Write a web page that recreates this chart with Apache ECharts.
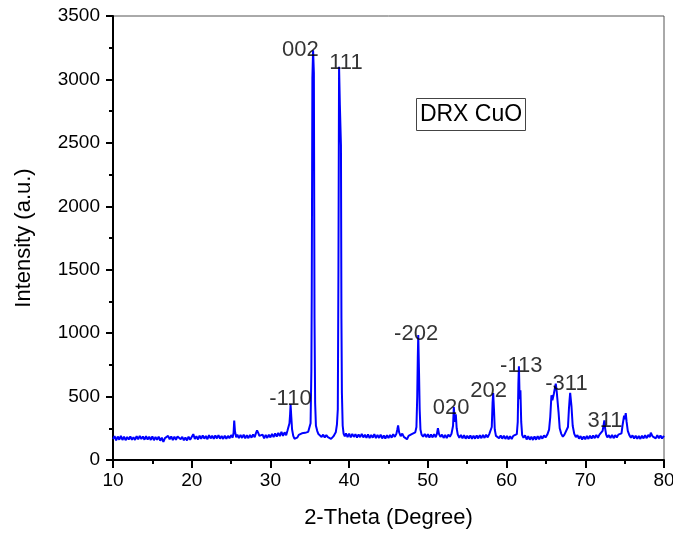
<!DOCTYPE html>
<html>
<head>
<meta charset="utf-8">
<script src="https://cdn.jsdelivr.net/npm/echarts@6/dist/echarts.min.js"></script>
<style>html,body{margin:0;padding:0;background:#fff;}#c{width:673px;height:533px;}</style>
</head>
<body>
<div id="c"></div>
<script>
// 2-Theta (degree) vs intensity (a.u.)
const pattern = [
[10.0,165],[10.2,188],[10.4,155],[10.6,185],[10.8,160],[11.0,190],[11.2,158],[11.4,184],[11.6,156],[11.8,182],
[12.0,162],[12.2,186],[12.4,160],[12.6,180],[12.8,158],[13.0,188],[13.2,164],[13.4,190],[13.6,166],[13.8,186],
[14.0,160],[14.2,188],[14.4,162],[14.6,184],[14.8,158],[15.0,186],[15.2,156],[15.4,182],[15.6,160],[15.8,184],
[16.0,152],[16.2,176],[16.4,142],[16.6,172],[16.8,158],[17.0,190],[17.2,164],[17.4,186],[17.6,156],[17.8,184],
[18.0,160],[18.2,186],[18.4,200],[18.6,164],[18.8,182],[19.0,156],[19.2,178],[19.4,154],[19.6,184],[19.8,160],
[20.0,182],[20.2,204],[20.4,166],[20.6,188],[20.8,162],[21.0,192],[21.2,166],[21.4,194],[21.6,168],[21.8,190],
[22.0,164],[22.2,196],[22.4,170],[22.6,192],[22.8,166],[23.0,194],[23.2,170],[23.4,196],[23.6,168],[23.8,190],
[24.0,166],[24.2,192],[24.4,168],[24.6,190],[24.8,172],[25.0,196],[25.2,176],[25.32,215],[25.4,310],[25.5,225],
[25.65,178],[25.8,200],[26.0,172],[26.2,198],[26.4,174],[26.6,200],[26.8,170],[27.0,196],[27.2,172],[27.4,198],
[27.6,176],[27.8,202],[28.0,180],[28.15,210],[28.3,234],[28.45,214],[28.6,190],[28.8,176],[29.0,200],[29.2,170],
[29.4,198],[29.6,174],[29.8,200],[30.0,178],[30.2,206],[30.4,180],[30.6,210],[30.8,184],[31.0,214],[31.2,188],
[31.4,222],[31.6,190],[31.8,218],[32.0,196],[32.15,228],[32.3,214],[32.42,290],[32.5,360],[32.56,440],[32.65,340],
[32.75,240],[32.9,190],[33.05,168],[33.2,182],[33.4,176],[33.6,198],[33.8,190],[34.0,210],[34.2,200],[34.4,214],
[34.6,202],[34.8,222],[35.0,235],[35.1,290],[35.2,700],[35.25,1315],[35.33,3010],[35.42,3230],[35.52,3050],[35.6,1118],
[35.68,450],[35.78,270],[35.95,228],[36.1,204],[36.3,196],[36.5,182],[36.7,200],[36.9,178],[37.1,196],[37.3,180],
[37.5,188],[37.7,166],[37.85,152],[38.0,186],[38.15,200],[38.3,218],[38.45,280],[38.56,400],[38.64,1500],[38.72,3100],
[38.82,2800],[38.96,2480],[39.02,1118],[39.08,530],[39.18,270],[39.3,206],[39.45,186],[39.6,210],[39.8,180],[40.0,208],
[40.2,178],[40.4,206],[40.6,182],[40.8,204],[41.0,176],[41.2,202],[41.4,180],[41.6,206],[41.8,178],[42.0,200],
[42.2,174],[42.4,202],[42.6,172],[42.8,198],[43.0,176],[43.2,204],[43.4,172],[43.6,198],[43.8,174],[44.0,200],
[44.2,170],[44.4,194],[44.6,168],[44.8,196],[45.0,174],[45.2,198],[45.4,176],[45.6,204],[45.8,182],[46.0,206],
[46.12,240],[46.22,272],[46.35,218],[46.55,188],[46.75,208],[46.95,182],[47.15,196],[47.35,164],[47.55,190],[47.75,180],
[47.95,204],[48.15,196],[48.4,218],[48.55,260],[48.65,500],[48.72,800],[48.78,985],[48.88,683],[48.96,400],[49.06,240],
[49.2,200],[49.4,184],[49.6,206],[49.8,180],[50.0,204],[50.2,176],[50.4,202],[50.6,178],[50.8,204],[51.0,180],
[51.15,206],[51.28,250],[51.42,204],[51.6,182],[51.8,200],[52.0,174],[52.2,198],[52.4,172],[52.6,200],[52.8,184],
[53.0,206],[53.12,215],[53.2,270],[53.3,417],[53.42,300],[53.55,360],[53.66,250],[53.8,200],[54.0,176],[54.2,198],
[54.4,170],[54.6,196],[54.8,168],[55.0,192],[55.2,170],[55.4,194],[55.6,166],[55.8,192],[56.0,168],[56.2,194],
[56.4,170],[56.6,196],[56.8,172],[57.0,198],[57.2,174],[57.4,200],[57.6,178],[57.8,204],[58.0,196],[58.12,260],
[58.22,450],[58.3,528],[58.4,400],[58.5,240],[58.65,190],[58.85,200],[59.05,172],[59.25,194],[59.45,168],[59.65,192],
[59.85,166],[60.05,190],[60.25,164],[60.45,188],[60.65,166],[60.85,190],[61.05,176],[61.3,204],[61.42,300],[61.5,600],
[61.57,739],[61.66,480],[61.76,549],[61.86,300],[61.98,196],[62.15,176],[62.35,194],[62.55,162],[62.75,188],[62.95,160],
[63.15,184],[63.35,158],[63.55,186],[63.75,160],[63.95,188],[64.15,164],[64.35,190],[64.55,168],[64.75,194],[64.95,178],
[65.2,204],[65.4,240],[65.55,340],[65.7,510],[65.82,470],[66.0,520],[66.25,602],[66.37,540],[66.47,536],[66.6,380],
[66.75,250],[66.95,206],[67.15,184],[67.35,200],[67.6,206],[67.8,260],[67.92,400],[68.0,470],[68.08,530],[68.15,536],
[68.25,420],[68.4,270],[68.6,206],[68.8,180],[69.0,196],[69.2,168],[69.4,188],[69.6,162],[69.8,186],[70.0,164],
[70.2,190],[70.4,166],[70.6,192],[70.8,170],[71.0,194],[71.2,172],[71.4,198],[71.6,176],[71.8,200],[72.05,190],
[72.2,230],[72.3,265],[72.42,312],[72.52,250],[72.65,200],[72.8,178],[73.0,196],[73.2,174],[73.4,198],[73.6,172],
[73.8,196],[74.0,178],[74.2,200],[74.4,186],[74.6,210],[74.75,280],[74.93,350],[75.02,320],[75.14,370],[75.25,300],
[75.4,230],[75.6,196],[75.8,176],[76.0,194],[76.2,170],[76.4,192],[76.6,168],[76.8,190],[77.0,166],[77.2,192],
[77.4,170],[77.6,196],[77.8,172],[78.0,198],[78.2,180],[78.32,215],[78.42,224],[78.55,186],[78.75,198],[78.95,170],
[79.15,196],[79.35,172],[79.55,194],[79.75,170],[80.0,190]
];
// Miller-index labels: text, and where they sit (2-theta, intensity)
const peakLabels = ['002','111','-110','-202','020','202','-113','-311','311'];
const labelX = [33.81, 39.59, 32.54, 48.51, 52.96, 57.71, 61.87, 67.61, 72.51];
const labelY = [3236, 3130, 481, 993, 410, 548, 741, 599, 310];
const xTicks = [10, 20, 30, 40, 50, 60, 70, 80];
const yTicks = [0, 500, 1000, 1500, 2000, 2500, 3000, 3500];

const FONT = 'Liberation Sans, Arial, sans-serif';
const chart = echarts.init(document.getElementById('c'), null, {renderer: 'canvas'});
const labelData = peakLabels.map((t, i) => [labelX[i], labelY[i], t]);

chart.setOption({
  animation: false,
  backgroundColor: '#fff',
  grid: {left: 113, right: 9, top: 16, bottom: 73, show: true, borderColor: '#555', borderWidth: 1,
         containLabel: false, outerBoundsMode: 'none'},
  xAxis: {
    type: 'value', min: xTicks[0], max: xTicks[xTicks.length - 1], interval: 10,
    name: '2-Theta (Degree)', nameLocation: 'middle', nameGap: 47,
    nameTextStyle: {fontFamily: FONT, fontSize: 22, color: '#000'},
    axisLine: {show: true, onZero: false, lineStyle: {color: '#000', width: 2}},
    axisTick: {show: true, inside: false, length: 8, lineStyle: {color: '#000', width: 2}},
    minorTick: {show: true, splitNumber: 2, length: 4, lineStyle: {color: '#000', width: 2}},
    axisLabel: {fontFamily: FONT, fontSize: 19, color: '#000', margin: 11, formatter: v => String(v)},
    splitLine: {show: false}
  },
  yAxis: {
    type: 'value', min: yTicks[0], max: yTicks[yTicks.length - 1], interval: 500,
    name: 'Intensity (a.u.)', nameLocation: 'middle', nameGap: 78,
    nameTextStyle: {fontFamily: FONT, fontSize: 22, color: '#000'},
    axisLine: {show: true, onZero: false, lineStyle: {color: '#000', width: 2}},
    axisTick: {show: true, inside: false, length: 7, lineStyle: {color: '#000', width: 2}},
    minorTick: {show: true, splitNumber: 2, length: 4, lineStyle: {color: '#000', width: 2}},
    axisLabel: {fontFamily: FONT, fontSize: 19, color: '#000', margin: 13, formatter: v => String(v)},
    splitLine: {show: false}
  },
  series: [
    {
      type: 'line', data: pattern, showSymbol: false, symbol: 'none', sampling: false,
      lineStyle: {color: '#0000ff', width: 2}, z: 2
    },
    {
      type: 'scatter', data: labelData, symbolSize: 0, silent: true, z: 3,
      label: {
        show: true, position: 'inside', formatter: p => p.data[2],
        fontFamily: FONT, fontSize: 22, color: '#000', textBorderWidth: 0
      }
    }
  ],
  graphic: [{
    type: 'group', left: 416, top: 98,
    children: [
      {type: 'rect', shape: {x: 0, y: 0, width: 109, height: 32}, style: {fill: '#fff', stroke: '#444', lineWidth: 1}},
      {type: 'text', x: 54.5, y: 16, style: {text: 'DRX CuO', font: '23px ' + FONT, fill: '#000', align: 'center', verticalAlign: 'middle'}}
    ]
  }]
});
</script>
</body>
</html>
